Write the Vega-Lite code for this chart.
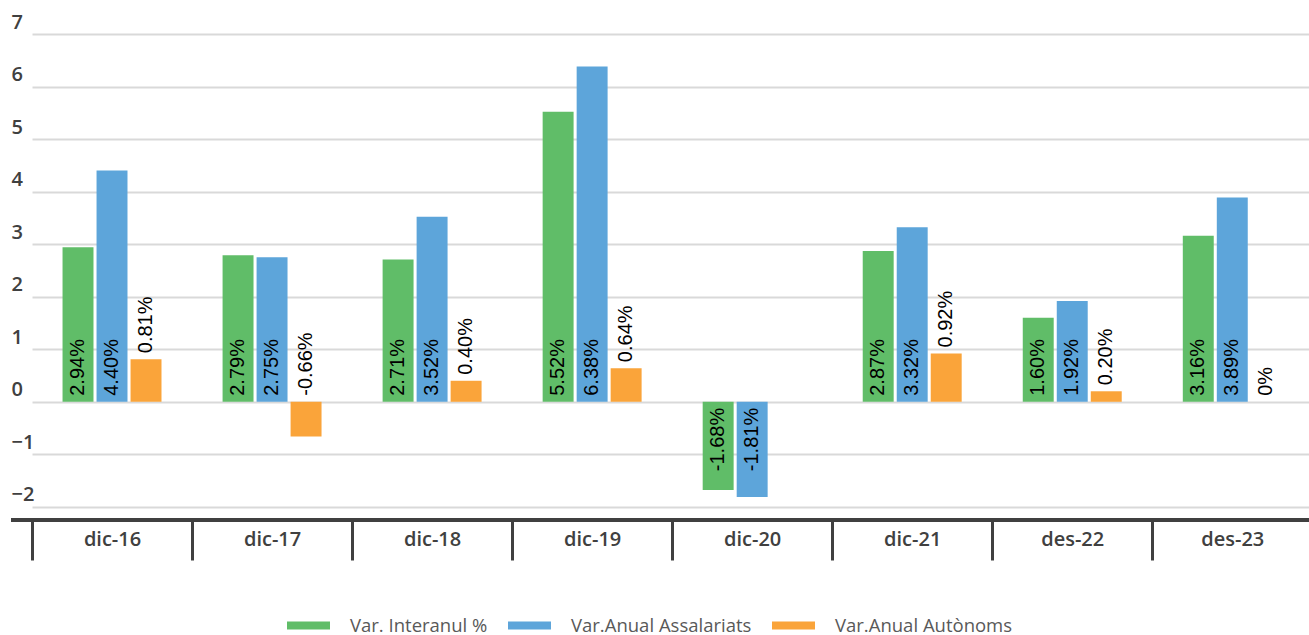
{
  "$schema": "https://vega.github.io/schema/vega-lite/v6.json",
  "width": 1298,
  "height": 486,
  "autosize": {"type": "none"},
  "padding": {"left": 11, "top": 34, "right": 0, "bottom": 115},
  "background": "white",
  "config": {"view": {"stroke": null}},
  "data": {
    "values": [
      {"period": "dic-16", "series": "Var. Interanul %", "value": 2.94, "label": "2.94%"},
      {"period": "dic-16", "series": "Var.Anual Assalariats", "value": 4.40, "label": "4.40%"},
      {"period": "dic-16", "series": "Var.Anual Autònoms", "value": 0.81, "label": "0.81%"},
      {"period": "dic-17", "series": "Var. Interanul %", "value": 2.79, "label": "2.79%"},
      {"period": "dic-17", "series": "Var.Anual Assalariats", "value": 2.75, "label": "2.75%"},
      {"period": "dic-17", "series": "Var.Anual Autònoms", "value": -0.66, "label": "-0.66%"},
      {"period": "dic-18", "series": "Var. Interanul %", "value": 2.71, "label": "2.71%"},
      {"period": "dic-18", "series": "Var.Anual Assalariats", "value": 3.52, "label": "3.52%"},
      {"period": "dic-18", "series": "Var.Anual Autònoms", "value": 0.40, "label": "0.40%"},
      {"period": "dic-19", "series": "Var. Interanul %", "value": 5.52, "label": "5.52%"},
      {"period": "dic-19", "series": "Var.Anual Assalariats", "value": 6.38, "label": "6.38%"},
      {"period": "dic-19", "series": "Var.Anual Autònoms", "value": 0.64, "label": "0.64%"},
      {"period": "dic-20", "series": "Var. Interanul %", "value": -1.68, "label": "-1.68%"},
      {"period": "dic-20", "series": "Var.Anual Assalariats", "value": -1.81, "label": "-1.81%"},
      {"period": "dic-21", "series": "Var. Interanul %", "value": 2.87, "label": "2.87%"},
      {"period": "dic-21", "series": "Var.Anual Assalariats", "value": 3.32, "label": "3.32%"},
      {"period": "dic-21", "series": "Var.Anual Autònoms", "value": 0.92, "label": "0.92%"},
      {"period": "des-22", "series": "Var. Interanul %", "value": 1.60, "label": "1.60%"},
      {"period": "des-22", "series": "Var.Anual Assalariats", "value": 1.92, "label": "1.92%"},
      {"period": "des-22", "series": "Var.Anual Autònoms", "value": 0.20, "label": "0.20%"},
      {"period": "des-23", "series": "Var. Interanul %", "value": 3.16, "label": "3.16%"},
      {"period": "des-23", "series": "Var.Anual Assalariats", "value": 3.89, "label": "3.89%"},
      {"period": "des-23", "series": "Var.Anual Autònoms", "value": 0, "label": "0%"}
    ]
  },
  "layer": [
    {
      "mark": {"type": "bar"},
      "encoding": {
        "x": {
          "field": "period", "type": "nominal",
          "sort": ["dic-16", "dic-17", "dic-18", "dic-19", "dic-20", "dic-21", "des-22", "des-23"],
          "scale": {"range": [21, 1301.3], "paddingInner": 0, "paddingOuter": 0},
          "axis": {
            "title": null, "domain": false, "ticks": true, "tickBand": "extent",
            "tickSize": 40, "tickWidth": 3, "tickColor": "#404040",
            "labelAngle": 0, "labelPadding": -31, "labelFont": "Open Sans",
            "labelFontSize": 20, "labelFontWeight": 600, "labelColor": "#404040",
            "grid": false
          }
        },
        "xOffset": {
          "field": "series", "type": "nominal",
          "sort": ["Var. Interanul %", "Var.Anual Assalariats", "Var.Anual Autònoms"],
          "scale": {"paddingInner": 0.09, "paddingOuter": 0.898}
        },
        "y": {
          "field": "value", "type": "quantitative",
          "scale": {"domain": [-2.25, 7], "nice": false, "zero": false},
          "axis": {
            "title": null, "values": [-2, -1, 0, 1, 2, 3, 4, 5, 6, 7],
            "domain": false, "ticks": false, "tickSize": 0, "labelPadding": 0,
            "labelAlign": "left", "labelBaseline": "alphabetic", "labelOffset": -6,
            "labelFlush": false, "labelFont": "Open Sans", "labelFontSize": 20,
            "labelFontWeight": 600, "labelColor": "#404040",
            "gridColor": "#d9d9d9", "gridWidth": 2
          }
        },
        "color": {
          "field": "series", "type": "nominal",
          "sort": ["Var. Interanul %", "Var.Anual Assalariats", "Var.Anual Autònoms"],
          "scale": {"range": ["#60BD68", "#5DA5DA", "#FAA43A"]},
          "legend": {
            "title": null, "orient": "none", "direction": "horizontal",
            "legendX": 276, "legendY": 570, "padding": 0,
            "symbolType": "M-1,-0.186H1V0.186H-1Z", "symbolSize": 1849,
            "symbolStrokeWidth": 0, "labelFont": "Open Sans", "labelFontSize": 18.5,
            "labelColor": "#595959", "labelOffset": 20, "columnPadding": 20,
            "labelLimit": 400
          }
        }
      }
    },
    {
      "mark": {"type": "rule", "color": "#404040", "strokeWidth": 3},
      "encoding": {"y": {"datum": -2.25}}
    },
    {
      "transform": [{"filter": "(datum.series != 'Var.Anual Autònoms' && datum.value >= 0) || (datum.series == 'Var.Anual Autònoms' && datum.value < 0)"}],
      "mark": {"type": "text", "angle": 270, "align": "left", "baseline": "middle", "dx": 6, "font": "Liberation Sans", "fontSize": 20, "color": "#000000"},
      "encoding": {
        "x": {"field": "period", "type": "nominal", "sort": ["dic-16", "dic-17", "dic-18", "dic-19", "dic-20", "dic-21", "des-22", "des-23"]},
        "xOffset": {"field": "series", "type": "nominal", "sort": ["Var. Interanul %", "Var.Anual Assalariats", "Var.Anual Autònoms"]},
        "y": {"datum": 0},
        "text": {"field": "label"}
      }
    },
    {
      "transform": [{"filter": "datum.series != 'Var.Anual Autònoms' && datum.value < 0"}],
      "mark": {"type": "text", "angle": 270, "align": "right", "baseline": "middle", "dx": -6, "font": "Liberation Sans", "fontSize": 20, "color": "#000000"},
      "encoding": {
        "x": {"field": "period", "type": "nominal", "sort": ["dic-16", "dic-17", "dic-18", "dic-19", "dic-20", "dic-21", "des-22", "des-23"]},
        "xOffset": {"field": "series", "type": "nominal", "sort": ["Var. Interanul %", "Var.Anual Assalariats", "Var.Anual Autònoms"]},
        "y": {"datum": 0},
        "text": {"field": "label"}
      }
    },
    {
      "transform": [{"filter": "datum.series == 'Var.Anual Autònoms' && datum.value >= 0"}],
      "mark": {"type": "text", "angle": 270, "align": "left", "baseline": "middle", "dx": 6, "font": "Liberation Sans", "fontSize": 20, "color": "#000000"},
      "encoding": {
        "x": {"field": "period", "type": "nominal", "sort": ["dic-16", "dic-17", "dic-18", "dic-19", "dic-20", "dic-21", "des-22", "des-23"]},
        "xOffset": {"field": "series", "type": "nominal", "sort": ["Var. Interanul %", "Var.Anual Assalariats", "Var.Anual Autònoms"]},
        "y": {"field": "value", "type": "quantitative"},
        "text": {"field": "label"}
      }
    }
  ]
}
